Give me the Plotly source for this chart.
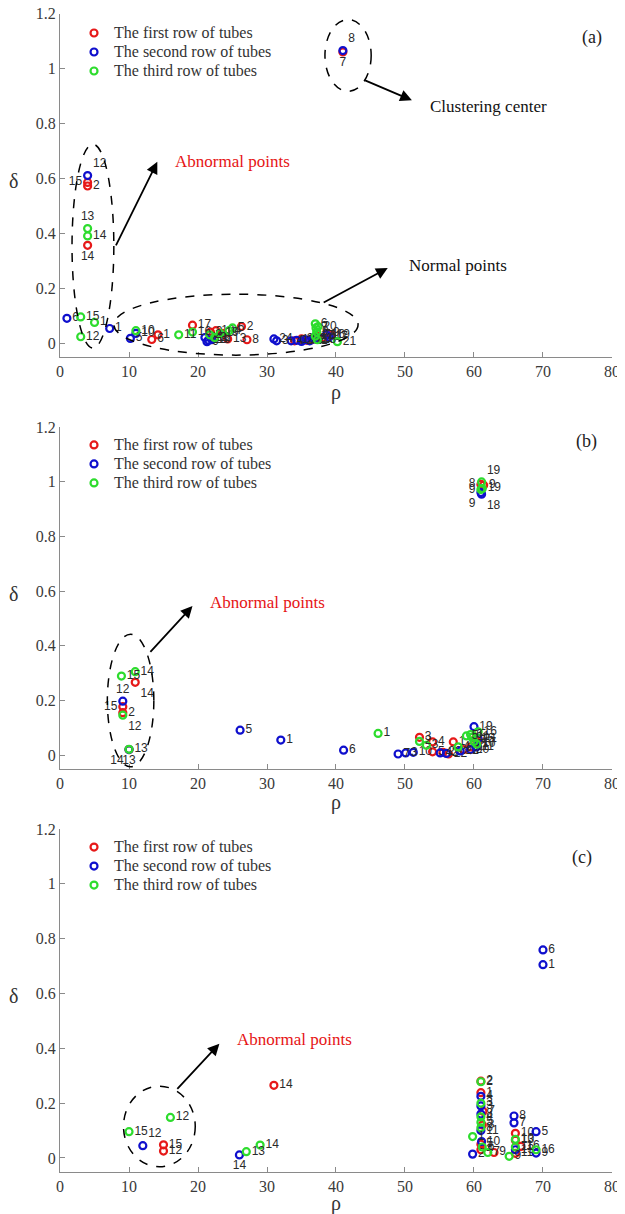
import plotly.graph_objects as go

# ---------------- data ----------------
# Panel (a)
a_r_rho = [4.0, 4.0, 4.0, 41.0, 13.3, 14.2, 19.2, 21.8, 22.6, 23.5, 26.3, 27.1, 34.0, 35.0, 35.8, 36.5, 37.3, 38.2, 38.8, 39.3, 22.0, 24.3]
a_r_delta = [0.585, 0.572, 0.356, 1.060, 0.013, 0.030, 0.065, 0.040, 0.045, 0.035, 0.060, 0.012, 0.008, 0.015, 0.010, 0.012, 0.025, 0.020, 0.035, 0.030, 0.018, 0.015]
a_r_lab = ['15', '2', '14', '7', '6', '1', '17', '3', '10', '5', '2', '8', '23', '20', '22', '11', '16', '4', '9', '19', '12', '13']
a_r_pos = ['middle left', 'middle right', 'bottom center', 'bottom center'] + ['middle right'] * 18

a_b_rho = [4.0, 41.0, 1.0, 7.2, 10.2, 11.0, 21.0, 21.3, 22.0, 31.0, 31.4, 33.5, 34.3, 35.0, 35.6, 36.2, 36.8, 38.6, 39.0, 21.5]
a_b_delta = [0.610, 1.065, 0.090, 0.053, 0.017, 0.035, 0.020, 0.005, 0.012, 0.015, 0.008, 0.008, 0.010, 0.006, 0.012, 0.008, 0.015, 0.030, 0.022, 0.010]
a_b_lab = ['12', '8', '6', '1', '5', '10', '18', '9', '19', '24', '3', '4', '13', '20', '22', '11', '21', '16', '17', '23']
a_b_pos = ['top right', 'top right'] + ['middle right'] * 18

a_g_rho = [4.0, 4.0, 3.0, 3.0, 5.0, 11.0, 17.2, 19.2, 21.7, 22.4, 24.5, 25.0, 37.0, 37.1, 37.2, 37.0, 37.3, 40.2, 23.2, 37.4]
a_g_delta = [0.417, 0.390, 0.095, 0.023, 0.075, 0.045, 0.030, 0.040, 0.030, 0.020, 0.045, 0.055, 0.070, 0.055, 0.040, 0.025, 0.012, 0.005, 0.035, 0.060]
a_g_lab = ['13', '14', '15', '12', '1', '10', '11', '16', '2', '3', '4', '5', '6', '7', '9', '17', '18', '21', '19', '20']
a_g_pos = ['top center'] + ['middle right'] * 19

# Panel (b)
b_r_rho = [10.9, 9.1, 9.1, 61.4, 61.0, 52.1, 54.0, 54.0, 56.3, 57.0, 58.5, 59.5, 60.2, 60.5, 55.5, 10.0]
b_r_delta = [0.266, 0.177, 0.155, 0.987, 0.990, 0.065, 0.048, 0.012, 0.004, 0.048, 0.020, 0.030, 0.060, 0.045, 0.010, 0.020]
b_r_lab = ['14', '15', '2', '9', '8', '3', '4', '5', '22', '1', '10', '11', '16', '17', '20', '13']
b_r_pos = ['bottom right', 'middle left', 'middle right', 'middle right', 'middle left'] + ['middle right'] * 10 + ['bottom center']

b_b_rho = [9.1, 61.1, 61.0, 26.1, 32.0, 41.1, 49.0, 50.1, 51.2, 55.1, 56.0, 60.0, 59.5, 60.3, 60.6, 58.0, 10.0]
b_b_delta = [0.197, 0.954, 0.960, 0.091, 0.055, 0.018, 0.004, 0.008, 0.010, 0.008, 0.006, 0.104, 0.020, 0.030, 0.060, 0.015, 0.020]
b_b_lab = ['12', '18', '9', '5', '1', '6', '7', '3', '10', '4', '2', '19', '20', '11', '21', '22', '14']
b_b_pos = ['top center', 'bottom right', 'bottom left'] + ['middle right'] * 13 + ['bottom left']

b_g_rho = [8.9, 10.9, 9.1, 10.0, 61.1, 61.0, 61.2, 46.1, 52.1, 53.1, 57.7, 58.9, 59.5, 60.0, 60.4, 59.7, 60.6]
b_g_delta = [0.289, 0.305, 0.146, 0.021, 0.999, 0.971, 0.975, 0.079, 0.050, 0.036, 0.030, 0.070, 0.075, 0.050, 0.040, 0.065, 0.085]
b_g_lab = ['15', '14', '12', '13', '19', '9', '19', '1', '2', '3', '4', '5', '6', '7', '10', '11', '16']
b_g_pos = ['middle right', 'middle right', 'bottom right', 'middle right', 'top right', 'middle left', 'middle right'] + ['middle right'] * 10

# Panel (c)
c_r_rho = [15.0, 15.0, 31.0, 61.0, 61.0, 61.2, 61.0, 62.9, 66.0, 66.8, 66.0, 61.0, 61.3, 66.0]
c_r_delta = [0.048, 0.025, 0.265, 0.280, 0.238, 0.120, 0.050, 0.020, 0.090, 0.042, 0.017, 0.030, 0.170, 0.065]
c_r_lab = ['15', '12', '14', '2', '1', '3', '5', '9', '10', '16', '11', '4', '7', '13']
c_r_pos = ['middle right'] * 14

c_b_rho = [12.0, 26.0, 70.0, 70.0, 59.8, 61.0, 61.0, 61.0, 65.8, 65.8, 69.0, 69.0, 61.1, 61.0, 66.0]
c_b_delta = [0.045, 0.011, 0.759, 0.705, 0.014, 0.225, 0.190, 0.160, 0.153, 0.128, 0.096, 0.018, 0.060, 0.100, 0.030]
c_b_lab = ['12', '14', '6', '1', '2', '4', '3', '8', '8', '7', '5', '9', '10', '11', '13']
c_b_pos = ['top right', 'bottom center'] + ['middle right'] * 13

c_g_rho = [10.0, 16.0, 27.0, 29.0, 61.0, 59.8, 61.0, 61.0, 61.0, 61.2, 65.1, 66.0, 66.0, 69.0, 62.0, 61.0]
c_g_delta = [0.096, 0.148, 0.023, 0.047, 0.278, 0.078, 0.200, 0.150, 0.130, 0.040, 0.006, 0.068, 0.040, 0.030, 0.020, 0.110]
c_g_lab = ['15', '12', '13', '14', '2', '1', '3', '4', '5', '6', '9', '10', '11', '16', '7', '8']
c_g_pos = ['middle right'] * 16

series_names = ['The first row of tubes', 'The second row of tubes', 'The third row of tubes']
colors = ['rgb(230,25,25)', 'rgb(15,15,205)', 'rgb(45,220,45)']

panels = [
    [(a_r_rho, a_r_delta, a_r_lab, a_r_pos), (a_b_rho, a_b_delta, a_b_lab, a_b_pos), (a_g_rho, a_g_delta, a_g_lab, a_g_pos)],
    [(b_r_rho, b_r_delta, b_r_lab, b_r_pos), (b_b_rho, b_b_delta, b_b_lab, b_b_pos), (b_g_rho, b_g_delta, b_g_lab, b_g_pos)],
    [(c_r_rho, c_r_delta, c_r_lab, c_r_pos), (c_b_rho, c_b_delta, c_b_lab, c_b_pos), (c_g_rho, c_g_delta, c_g_lab, c_g_pos)],
]

# ---------------- layout constants ----------------
# page body has an 8px margin, so the figure is 8px smaller than the window
W, H = 617, 1206
SERIF = 'Liberation Serif, Times New Roman, serif'
SANS = 'Liberation Sans, Arial, sans-serif'
y_domains = [[0.7108, 0.9954], [0.3692, 0.6526], [0.0351, 0.3192]]
x_domain = [0.0843, 0.9789]
legend_tops = [0.9913, 0.6497, 0.3163]
rho_shift = [-36, -34, -32]
panel_tags = ['(a)', '(b)', '(c)']
tag_pos = [(77.1, 1.114), (76.3, 1.146), (75.7, 1.098)]

fig = go.Figure()

for p, rows in enumerate(panels):
    sfx = '' if p == 0 else str(p + 1)
    for s, (rho, delta, lab, pos) in enumerate(rows):
        fig.add_trace(go.Scatter(
            x=rho, y=delta, text=lab, textposition=pos,
            mode='markers+text',
            name="<span style='font-size:16px'>" + series_names[s] + "</span>",
            marker=dict(symbol='circle-open', size=7, color=colors[s], line=dict(width=2.2, color=colors[s])),
            textfont=dict(family=SANS, size=12, color='#2a2a2a'),
            cliponaxis=False,
            xaxis='x' + sfx, yaxis='y' + sfx,
            legend='legend' + sfx,
        ))

layout = dict(
    width=W, height=H,
    margin=dict(l=0, r=0, t=0, b=0),
    paper_bgcolor='white', plot_bgcolor='white',
    font=dict(family=SERIF, color='#333'),
    showlegend=True,
)

axis_common = dict(showgrid=False, zeroline=False, showline=True, linecolor='#8a8a8a', linewidth=1,
                   ticks='inside', ticklen=5, tickcolor='#8a8a8a', ticklabeloverflow='allow',
                   tickfont=dict(family=SERIF, size=16, color='#3a3a3a'), automargin=False)

annotations = []
shapes = []
for p in range(3):
    sfx = '' if p == 0 else str(p + 1)
    layout['xaxis' + sfx] = dict(axis_common, domain=x_domain, range=[0, 80], tickmode='array',
                                 tickvals=[0, 10, 20, 30, 40, 50, 60, 70, 80],
                                 anchor='y' + sfx)
    layout['yaxis' + sfx] = dict(axis_common, domain=y_domains[p], range=[-0.05, 1.2], tickmode='array',
                                 tickvals=[0, 0.2, 0.4, 0.6, 0.8, 1, 1.2],
                                 ticktext=['0', '0.2', '0.4', '0.6', '0.8', '1', '1.2'],
                                 anchor='x' + sfx)
    layout['legend' + sfx] = dict(x=0.107, xanchor='left', y=legend_tops[p], yanchor='top',
                                  bgcolor='rgba(0,0,0,0)', font=dict(family=SERIF, size=12, color='#333'),
                                  tracegroupgap=0, itemclick=False)
    annotations.append(dict(text='ρ', x=40, xref='x' + sfx, y=0, yref='y' + sfx + ' domain',
                            yanchor='middle', yshift=rho_shift[p], showarrow=False,
                            font=dict(family=SERIF, size=20, color='#333')))
    annotations.append(dict(text='δ', x=0, xref='x' + sfx + ' domain', y=0.5, yref='y' + sfx + ' domain',
                            xanchor='center', xshift=-47, yshift=4, showarrow=False,
                            font=dict(family=SERIF, size=20, color='#333')))
    annotations.append(dict(text=panel_tags[p], x=tag_pos[p][0], y=tag_pos[p][1], xref='x' + sfx, yref='y' + sfx,
                            showarrow=False, font=dict(family=SERIF, size=18, color='#222')))

def ellipse(sfx, x0, x1, y0, y1):
    shapes.append(dict(type='circle', xref='x' + sfx, yref='y' + sfx, x0=x0, x1=x1, y0=y0, y1=y1,
                       line=dict(color='black', width=1.5, dash='dash')))

def arrow(sfx, tx, ty, hx, hy):
    annotations.append(dict(x=hx, y=hy, ax=tx, ay=ty, xref='x' + sfx, yref='y' + sfx,
                            axref='x' + sfx, ayref='y' + sfx, showarrow=True, arrowhead=2,
                            arrowsize=1.3, arrowwidth=1.8, arrowcolor='black', text=''))

def label(sfx, txt, x, y, color):
    annotations.append(dict(text=txt, x=x, y=y, xref='x' + sfx, yref='y' + sfx, xanchor='left',
                            showarrow=False, font=dict(family=SERIF, size=17, color=color)))

# panel (a)
ellipse('', 1.74, 7.8, -0.018, 0.724)
ellipse('', 38.4, 45.1, 0.917, 1.178)
ellipse('', 7.8, 43.2, -0.044, 0.178)
arrow('', 8.0, 0.35, 14.1, 0.66)
arrow('', 44.0, 0.959, 51.0, 0.884)
arrow('', 38.0, 0.145, 47.5, 0.273)
label('', 'Abnormal points', 16.4, 0.662, 'rgb(230,20,20)')
label('', 'Clustering center', 53.3, 0.862, '#111')
label('', 'Normal points', 50.3, 0.284, '#111')
# panel (b)
ellipse('2', 6.86, 13.6, -0.043, 0.442)
arrow('2', 12.9, 0.372, 19.2, 0.545)
label('2', 'Abnormal points', 21.5, 0.557, 'rgb(230,20,20)')
# panel (c)
ellipse('3', 9.2, 19.6, -0.032, 0.262)
arrow('3', 16.8, 0.247, 23.1, 0.417)
label('3', 'Abnormal points', 25.4, 0.433, 'rgb(230,20,20)')

layout['annotations'] = annotations
layout['shapes'] = shapes
fig.update_layout(**layout)

fig.write_html('out.html')
